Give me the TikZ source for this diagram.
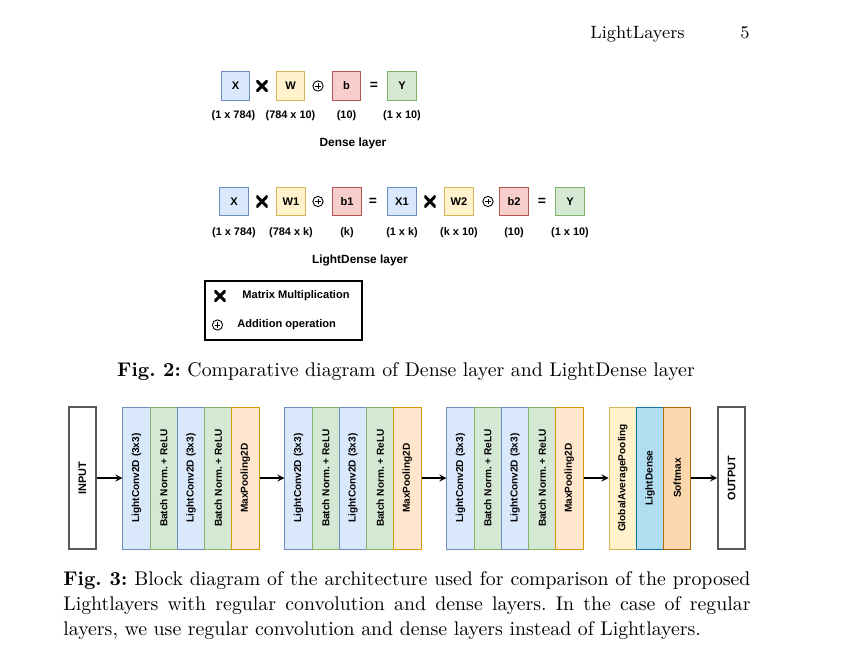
\documentclass[tikz,border=0pt]{standalone}
\usepackage{fontspec}
\setsansfont{Liberation Sans}
\definecolor{convfill}{HTML}{DAE8FC}
\definecolor{convline}{HTML}{6C8EBF}
\definecolor{normfill}{HTML}{D5E8D4}
\definecolor{normline}{HTML}{82B366}
\definecolor{poolfill}{HTML}{FFE6CC}
\definecolor{poolline}{HTML}{D79B00}
\definecolor{wfill}{HTML}{FFF2CC}
\definecolor{wline}{HTML}{D6B656}
\definecolor{bfill}{HTML}{F8CECC}
\definecolor{bline}{HTML}{B85450}
\definecolor{densefill}{HTML}{B1DDF0}
\definecolor{denseline}{HTML}{10739E}
\definecolor{softfill}{HTML}{FAD7AC}
\definecolor{softline}{HTML}{B46504}
\frenchspacing
\begin{document}
\begin{tikzpicture}[
    x=0.505pt,
    y=-0.505pt,
    >=stealth,
    tensor/.style={
        draw,
        line width=0.5pt,
        minimum width=14.6pt,
        minimum height=14.6pt,
        inner sep=0pt,
        font=\sffamily\bfseries\fontsize{5.6}{6}\selectfont
    },
    xbox/.style={tensor, fill=convfill, draw=convline},
    wbox/.style={tensor, fill=wfill, draw=wline},
    bbox/.style={tensor, fill=bfill, draw=bline},
    ybox/.style={tensor, fill=normfill, draw=normline},
    shape label/.style={
        inner sep=0pt,
        font=\sffamily\bfseries\fontsize{5.5}{6}\selectfont
    },
    key label/.style={
        inner sep=0pt,
        font=\sffamily\bfseries\fontsize{5.6}{6}\selectfont
    },
    title/.style={
        inner sep=0pt,
        font=\sffamily\bfseries\fontsize{6}{7}\selectfont
    },
    mult/.style={
        minimum size=5.8pt,
        inner sep=0pt,
        path picture={
            \draw[line width=1.5pt]
                (path picture bounding box.north west) -- (path picture bounding box.south east)
                (path picture bounding box.south west) -- (path picture bounding box.north east);
        }
    },
    plus/.style={
        circle,
        draw,
        line width=0.45pt,
        minimum size=5.2pt,
        inner sep=0pt,
        path picture={
            \draw[line width=0.45pt]
                ([xshift=-1.4pt]path picture bounding box.center) -- ([xshift=1.4pt]path picture bounding box.center)
                ([yshift=-1.4pt]path picture bounding box.center) -- ([yshift=1.4pt]path picture bounding box.center);
        }
    },
    equals/.style={
        inner sep=0pt,
        font=\sffamily\bfseries\fontsize{7}{8}\selectfont
    },
    layer/.style={
        draw,
        line width=0.5pt,
        minimum width=13.75pt,
        minimum height=71.7pt,
        inner sep=0pt,
        font=\sffamily\bfseries\fontsize{5.1}{6}\selectfont
    },
    conv/.style={layer, fill=convfill, draw=convline},
    norm/.style={layer, fill=normfill, draw=normline},
    pool/.style={layer, fill=poolfill, draw=poolline},
    gap/.style={layer, fill=wfill, draw=wline},
    light/.style={layer, fill=densefill, draw=denseline},
    soft/.style={layer, fill=softfill, draw=softline},
    io/.style={layer, draw=black!65, line width=0.7pt, fill=white, font=\sffamily\bfseries\fontsize{5.5}{6}\selectfont},
    flow/.style={
        ->,
        line width=0.6pt
    }
    ]
    \fill[white] (0,0) rectangle (850,650);
    \useasboundingbox (0,0) rectangle (850,650);

    % running head
    \node[inner sep=0pt, anchor=base west, font=\fontsize{9}{11}\selectfont] (head) at (590,38) {LightLayers};
    \node[inner sep=0pt, anchor=base, font=\fontsize{9}{11}\selectfont] (page) at (745,38) {5};

    % Dense layer
    \node[xbox] (X) at (235.5,86) {X};
    \node[mult] (m1) at (262,86) {};
    \node[wbox] (W) at (290.5,86) {W};
    \node[plus] (p1) at (318,86) {};
    \node[bbox] (b) at (346.5,86) {b};
    \node[equals] (e1) at (374,86) {=};
    \node[ybox] (Y) at (402,86) {Y};
    \node[shape label] at (233.5,116) {(1 x 784)};
    \node[shape label] at (290.5,116) {(784 x 10)};
    \node[shape label] at (346.5,116) {(10)};
    \node[shape label] at (402,116) {(1 x 10)};
    \node[title] (dense) at (353,143) {Dense layer};

    % LightDense layer
    \node[xbox] (LX) at (234,201.5) {X};
    \node[mult] (m2) at (262,201.5) {};
    \node[wbox] (W1) at (291,201.5) {W1};
    \node[plus] (p2) at (318,201.5) {};
    \node[bbox] (b1) at (347,201.5) {b1};
    \node[equals] (e2) at (373,201.5) {=};
    \node[xbox] (X1) at (402,201.5) {X1};
    \node[mult] (m3) at (430,201.5) {};
    \node[wbox] (W2) at (459,201.5) {W2};
    \node[plus] (p3) at (488,201.5) {};
    \node[bbox] (b2) at (514,201.5) {b2};
    \node[equals] (e3) at (542,201.5) {=};
    \node[ybox] (LY) at (570,201.5) {Y};
    \node[shape label] at (234,233) {(1 x 784)};
    \node[shape label] at (291,233) {(784 x k)};
    \node[shape label] at (347,233) {(k)};
    \node[shape label] at (402,233) {(1 x k)};
    \node[shape label] at (459,233) {(k x 10)};
    \node[shape label] at (514,233) {(10)};
    \node[shape label] at (570,233) {(1 x 10)};
    \node[title] (lightdense) at (360,260) {LightDense layer};

    % legend
    \draw[line width=0.8pt] (205,281) rectangle (362,340);
    \node[mult] (km) at (220,296) {};
    \node[key label] at (296,296) {Matrix Multiplication};
    \node[plus] (kp) at (217.5,325) {};
    \node[key label, anchor=west] at (237,325) {Addition operation};

    \node[inner sep=0pt, anchor=base, font=\fontsize{10}{12.6}\selectfont] (fig2) at (406,376)
        {\textbf{Fig. 2:} Comparative diagram of Dense layer and LightDense layer};

    % architecture
    \node[io] (in) at (82.5,478) {\rotatebox{90}{INPUT}};

    \node[conv] (c11) at (136.6,478) {\rotatebox{90}{LightConv2D (3x3)}};
    \node[norm] (c12) at (163.8,478) {\rotatebox{90}{Batch Norm. + ReLU}};
    \node[conv] (c13) at (191,478) {\rotatebox{90}{LightConv2D (3x3)}};
    \node[norm] (c14) at (218.2,478) {\rotatebox{90}{Batch Norm. + ReLU}};
    \node[pool] (c15) at (245.4,478) {\rotatebox{90}{MaxPooling2D}};

    \node[conv] (c21) at (298.6,478) {\rotatebox{90}{LightConv2D (3x3)}};
    \node[norm] (c22) at (325.8,478) {\rotatebox{90}{Batch Norm. + ReLU}};
    \node[conv] (c23) at (353,478) {\rotatebox{90}{LightConv2D (3x3)}};
    \node[norm] (c24) at (380.2,478) {\rotatebox{90}{Batch Norm. + ReLU}};
    \node[pool] (c25) at (407.4,478) {\rotatebox{90}{MaxPooling2D}};

    \node[conv] (c31) at (460.6,478) {\rotatebox{90}{LightConv2D (3x3)}};
    \node[norm] (c32) at (487.8,478) {\rotatebox{90}{Batch Norm. + ReLU}};
    \node[conv] (c33) at (515,478) {\rotatebox{90}{LightConv2D (3x3)}};
    \node[norm] (c34) at (542.2,478) {\rotatebox{90}{Batch Norm. + ReLU}};
    \node[pool] (c35) at (569.4,478) {\rotatebox{90}{MaxPooling2D}};

    \node[gap] (h1) at (622.7,478) {\rotatebox{90}{GlobalAveragePooling}};
    \node[light] (h2) at (650,478) {\rotatebox{90}{LightDense}};
    \node[soft] (h3) at (677.3,478) {\rotatebox{90}{Softmax}};

    \node[io] (out) at (731.5,478) {\rotatebox{90}{OUTPUT}};

    \draw[flow] (in.east) -- (c11.west);
    \draw[flow] (c15.east) -- (c21.west);
    \draw[flow] (c25.east) -- (c31.west);
    \draw[flow] (c35.east) -- (h1.west);
    \draw[flow] (h3.east) -- (out.west);

    \node[inner sep=0pt, anchor=north west, text width=347pt, align=justify, font=\fontsize{10}{12.6}\selectfont] (fig3) at (63,571)
        {\textbf{Fig. 3:} Block diagram of the architecture used for comparison of the proposed\linebreak
        Lightlayers with regular convolution and dense layers. In the case of regular\linebreak
        layers, we use regular convolution and dense layers instead of Lightlayers.};
\end{tikzpicture}
\end{document}
